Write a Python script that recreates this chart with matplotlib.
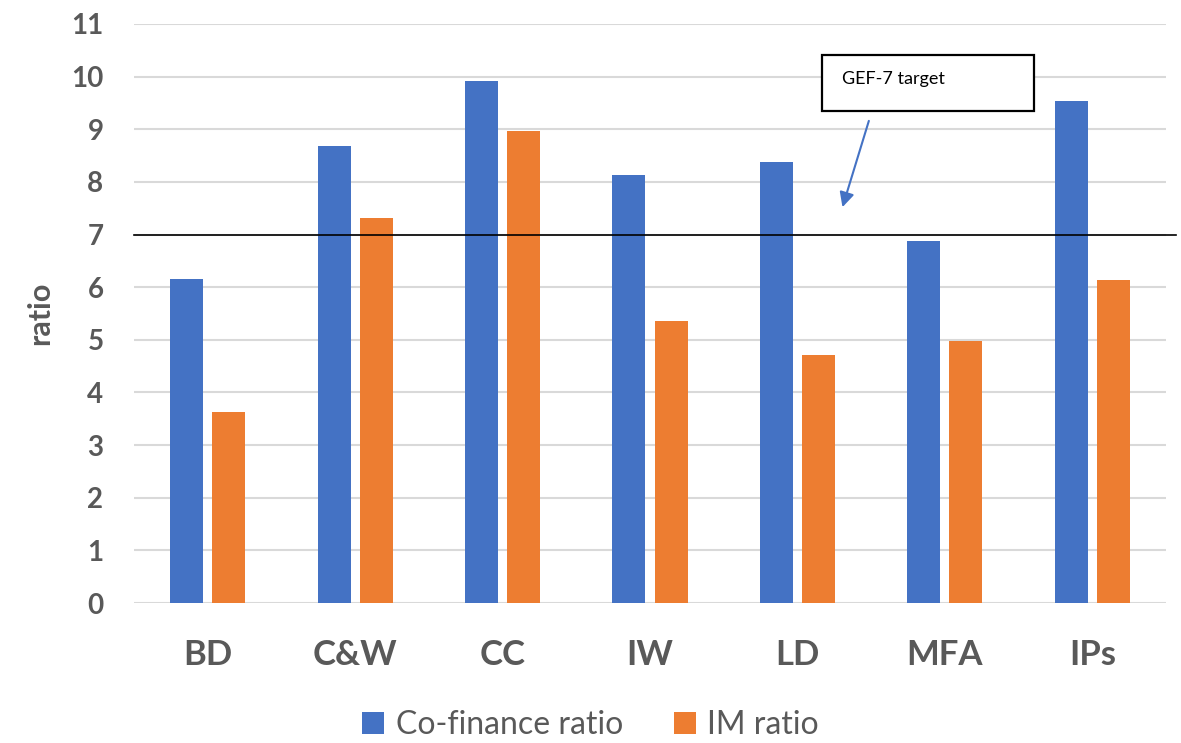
import matplotlib.pyplot as plt
from matplotlib.patches import Rectangle
import numpy as np

# Data
categories = ['BD', 'C&W', 'CC', 'IW', 'LD', 'MFA', 'IPs']
cofinance_ratio = [6.15, 8.69, 9.91, 8.14, 8.37, 6.88, 9.53]
im_ratio = [3.63, 7.31, 8.97, 5.35, 4.72, 4.97, 6.14]
target = 7

blue = '#4472C4'
orange = '#ED7D31'
grey = '#595959'

plt.rcParams['font.family'] = ['Lato', 'DejaVu Sans']

fig = plt.figure(figsize=(11.81, 7.43), dpi=100)
ax = fig.add_axes([134 / 1181, 1 - 603 / 743, (1166 - 134) / 1181, (603 - 24) / 743])

x = np.arange(len(categories))
w = 0.224
ax.bar(x - 0.143, cofinance_ratio, w, color=blue, label='Co-finance ratio', zorder=3)
ax.bar(x + 0.143, im_ratio, w, color=orange, label='IM ratio', zorder=3)

ax.set_xlim(-0.5, len(categories) - 0.5)
ax.set_ylim(0, 11)
ax.set_yticks(range(0, 12))
ax.grid(axis='y', color='#d9d9d9', linewidth=1.5, zorder=0)
for s in ax.spines.values():
    s.set_visible(False)
ax.tick_params(length=0)
ax.tick_params(axis='y', labelsize=20, labelcolor=grey, pad=22)
ax.tick_params(axis='x', labelsize=25, labelcolor=grey, pad=26)
for lab in ax.get_yticklabels():
    lab.set_fontweight('bold')
ax.set_xticks(x)
ax.set_xticklabels(categories, fontweight='bold')
ax.set_ylabel('ratio', fontsize=22, fontweight='bold', color=grey, labelpad=12)

# target line
ax.plot([-0.5, len(categories) - 0.43], [target, target], color='black', lw=1.2,
        clip_on=False, zorder=4)

# annotation box with arrow
ax.add_patch(Rectangle((4.167, 9.35), 1.44, 1.06, fc='white', ec='black', lw=1.6,
                       zorder=5, clip_on=False))
ax.text(4.30, 9.96, 'GEF-7 target', fontsize=13, color='black', va='center',
        ha='left', zorder=6)
ax.annotate('', xy=(4.30, 7.47), xytext=(4.49, 9.21),
            arrowprops=dict(arrowstyle='-|>', color=blue, lw=1.5, mutation_scale=22),
            zorder=5)

leg = fig.legend(loc='lower center', bbox_to_anchor=(0.5, -0.035), ncol=2, frameon=False,
                 fontsize=23, handlelength=0.7, handleheight=0.7, columnspacing=1.6,
                 handletextpad=0.35)
for t in leg.get_texts():
    t.set_color(grey)

fig.savefig('out.png', dpi=100)
